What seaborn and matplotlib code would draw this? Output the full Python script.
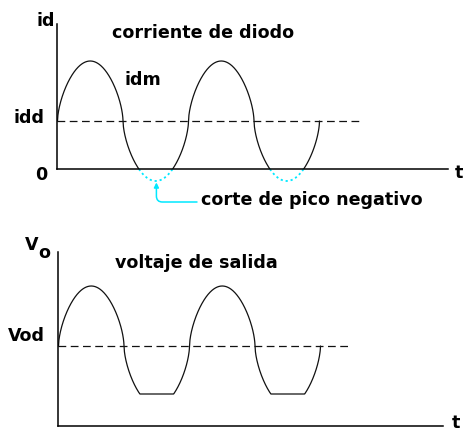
import numpy as np
import pandas as pd
import matplotlib
matplotlib.use("Agg")
import matplotlib.pyplot as plt
import seaborn as sns

# Waveform parameters (currents/voltages in units of the DC level)
idd = 1.0          # DC level of the diode current
idm = 1.25         # peak amplitude of the AC component
forma = 0.6        # shape exponent of the drawn lobes (1 = pure sine)
periodos = 2.0     # number of cycles drawn
fin_idd = 2.31     # end of the dashed idd line (in periods)
vod = 1.0          # DC level of the output voltage
v_corte = 0.0      # level where the negative peak is cut
fin_vod = 2.22     # end of the dashed Vod line (in periods)

titulo_sup = "corriente de diodo"
titulo_inf = "voltaje de salida"
nota_corte = "corte de pico negativo"

NEGRO = "#111111"
CIAN = "#00e8ff"

W, H = 464, 432
PX_T = 131.0   # pixels per period
PX_U = 48.0    # pixels per unit

sns.set_style("white")
plt.rcParams["font.family"] = ["DejaVu Sans"]
plt.rcParams["font.weight"] = "bold"

fig = plt.figure(figsize=(W / 100, H / 100), dpi=100)


def rect(l, t, r, b):
    return [l / W, 1 - b / H, (r - l) / W, (b - t) / H]


def ftext(x, y, s, ha="left", size=12.6, color="black"):
    fig.text(x / W, 1 - y / H, s, ha=ha, va="baseline", fontsize=size,
             fontweight="bold", color=color)


t = np.linspace(0, periodos, 1201)
s = np.sin(2 * np.pi * t)
onda = np.sign(s) * np.abs(s) ** forma
corriente = idd + idm * onda
salida = np.maximum(vod + idm * onda, v_corte)

# split the current into the conducting part and the cut negative peaks
tramo = np.cumsum(np.r_[0, np.diff(corriente >= 0) != 0])
df_i = pd.DataFrame({"t": t, "id": corriente, "tramo": tramo,
                     "signo": np.where(corriente >= 0, "pos", "neg")})
df_v = pd.DataFrame({"t": t, "vo": salida})

# ---------- upper panel: diode current ----------
ax1 = fig.add_axes(rect(57.5, 24, 448, 169))
ax1.set_xlim(0, (448 - 57.5) / PX_T)
ax1.set_ylim(0, (169 - 24) / PX_U)

pos = df_i[df_i.signo == "pos"]
neg = df_i[df_i.signo == "neg"]
sns.lineplot(data=pos, x="t", y="id", units="tramo", estimator=None,
             color=NEGRO, lw=0.9, ax=ax1, sort=False)
sns.lineplot(data=neg, x="t", y="id", units="tramo", estimator=None,
             color=CIAN, lw=1.3, ax=ax1, sort=False)
for ln in ax1.lines[-2:]:
    ln.set_dashes((1.2, 1.6))
    ln.set_clip_on(False)
ax1.plot([0, fin_idd], [idd, idd], color=NEGRO, lw=0.9, dashes=(6.2, 3.6))

trough_t = 0.75
trough_y = idd - idm
ax1.annotate("", xy=(trough_t + 0.005, trough_y - 0.03),
             xytext=((197 - 57.5) / PX_T, (169 - 202) / PX_U),
             arrowprops=dict(arrowstyle="-|>", color=CIAN, lw=1.1,
                             mutation_scale=7, shrinkA=0, shrinkB=0,
                             connectionstyle="angle,angleA=0,angleB=90,rad=6"),
             annotation_clip=False)

# ---------- lower panel: output voltage ----------
ax2 = fig.add_axes(rect(58.5, 252, 443, 426))
ax2.set_xlim(0, (443 - 58.5) / PX_T)
y_base = vod - (426 - 346) / PX_U
ax2.set_ylim(y_base, y_base + (426 - 252) / PX_U)
sns.lineplot(data=df_v, x="t", y="vo", estimator=None, color=NEGRO,
             lw=0.9, ax=ax2, sort=False)
ax2.plot([0, fin_vod], [vod, vod], color=NEGRO, lw=0.9, dashes=(6.2, 3.6))

for ax in (ax1, ax2):
    sns.despine(ax=ax)
    for side in ("left", "bottom"):
        ax.spines[side].set_color("black")
        ax.spines[side].set_linewidth(1.1)
    ax.set_xticks([])
    ax.set_yticks([])
    ax.set_xlabel("")
    ax.set_ylabel("")
    ax.patch.set_alpha(0)

# ---------- labels ----------
ftext(36, 26, "id")
ftext(112, 38, titulo_sup)
ftext(125, 85, "idm")
ftext(45, 123, "idd", ha="right")
ftext(47, 180, "0", ha="right")
ftext(201, 205, nota_corte)
ftext(455, 178, "t")

ftext(25, 250, "V")
ftext(38, 258, "o")
ftext(115, 268, titulo_inf)
ftext(45, 341, "Vod", ha="right")
ftext(452, 428, "t")

fig.savefig("out.png", dpi=100, facecolor="white")
